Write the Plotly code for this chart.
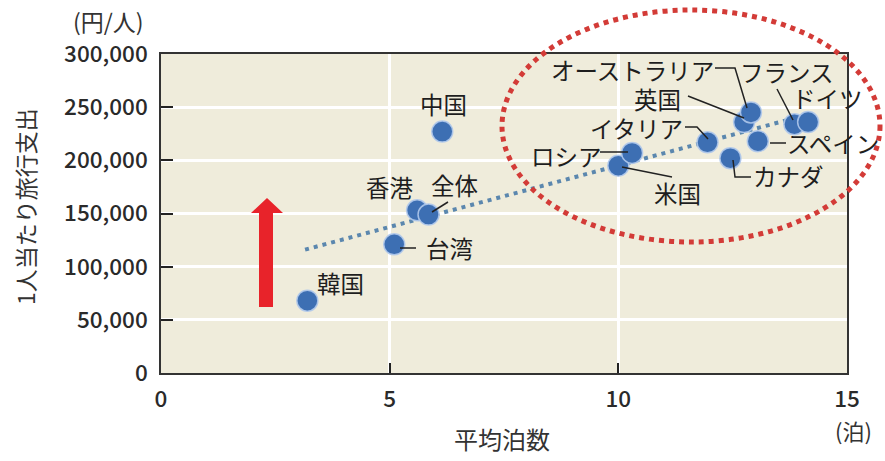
import plotly.graph_objects as go

# ---- data -------------------------------------------------------------
countries = ["韓国", "台湾", "香港", "全体", "中国", "米国", "ロシア", "イタリア",
             "カナダ", "英国", "オーストラリア", "スペイン", "フランス", "ドイツ"]
avg_nights = [3.2, 5.1, 5.6, 5.85, 6.15, 10.0, 10.3, 11.95,
              12.45, 12.75, 12.9, 13.05, 13.85, 14.15]
spend_per_person = [68000, 121000, 153000, 149000, 227000, 195000, 207000, 217000,
                    202000, 236000, 245000, 218000, 234000, 236000]

# fitted trend (end points)
trend_x = [3.15, 13.75]
trend_y = [116000, 238500]

x_ticks = [0, 5, 10, 15]
y_ticks = [0, 50000, 100000, 150000, 200000, 250000, 300000]

# ---- layout geometry --------------------------------------------------
W, H = 885, 461
ML, MR, MT, MB = 161, 38, 54, 88
PW, PH = W - ML - MR, H - MT - MB
XR, YR = (0, 15), (0, 300000)
FONT = "Noto Sans CJK JP"


def to_data(px, py):
    return (XR[0] + (px - ML) / PW * (XR[1] - XR[0]),
            YR[0] + (MT + PH - py) / PH * (YR[1] - YR[0]))


def to_paper(px, py):
    return (px - ML) / PW, (MT + PH - py) / PH


def path_of(points):
    pts = [to_data(*p) for p in points]
    return "M " + " L ".join(f"{x:.4f},{y:.1f}" for x, y in pts)


fig = go.Figure()

fig.add_trace(go.Scatter(
    x=trend_x, y=trend_y, mode="lines",
    line=dict(color="#5b87ae", width=4, dash="4px,5px"),
    hoverinfo="skip", showlegend=False))

fig.add_trace(go.Scatter(
    x=avg_nights, y=spend_per_person, mode="markers", text=countries,
    marker=dict(size=21, color="#3d6fb3",
                line=dict(color="rgba(175,200,235,0.9)", width=1.5)),
    hovertemplate="%{text}: %{x}泊, %{y:,}円<extra></extra>",
    showlegend=False))

# label placement (pixel centres) and leader lines
label_pos = {
    "中国": (443, 104), "香港": (390, 187), "全体": (454, 185), "台湾": (449, 248),
    "韓国": (340, 283), "ロシア": (566, 156), "米国": (677, 193),
    "イタリア": (636, 128), "カナダ": (788, 176), "英国": (657, 99),
    "オーストラリア": (632, 70), "フランス": (787, 72), "ドイツ": (827, 98),
    "スペイン": (833, 143),
}
leaders = [
    [(432, 212), (448, 202)],
    [(400, 248), (416, 248)],
    [(600, 152), (628, 152)],
    [(622, 167), (672, 177)],
    [(685, 127), (697, 127), (708, 139)],
    [(733, 160), (735, 177), (751, 177)],
    [(688, 96), (744, 118)],
    [(715, 68), (735, 68), (747, 108)],
    [(777, 89), (793, 120)],
    [(770, 143), (786, 143)],
]

annotations = []
for name in countries:
    lx, ly = to_data(*label_pos[name])
    annotations.append(dict(x=lx, y=ly, xref="x", yref="y", text=name,
                            xanchor="center", yanchor="middle", showarrow=False,
                            font=dict(size=23.5, color="#1e1e1e")))

shapes = []
for pts in leaders:
    shapes.append(dict(type="path", xref="x", yref="y", path=path_of(pts),
                       line=dict(color="#222222", width=1.5), layer="above"))

# upward red arrow
arrow = [(259, 307), (273, 307), (273, 213), (283, 213), (267, 198),
         (251, 213), (259, 213)]
shapes.append(dict(type="path", xref="x", yref="y", path=path_of(arrow) + " Z",
                   fillcolor="#e8232a", line=dict(width=0), layer="above"))

# dotted red ellipse around the long-stay group
ex0, ey0 = to_paper(502, 242)
ex1, ey1 = to_paper(880, 10)
shapes.append(dict(type="circle", xref="paper", yref="paper",
                   x0=ex0, x1=ex1, y0=ey0, y1=ey1,
                   line=dict(color="#d33b37", width=5, dash="5px,5px"),
                   layer="above"))

# axis captions
for text, (px, py), angle, size in [("1人当たり旅行支出", (25, 207), -90, 23),
                                    ("(円/人)", (108, 21), 0, 23),
                                    ("平均泊数", (502, 438), 0, 24),
                                    ("(泊)", (854, 430), 0, 22)]:
    ax_, ay_ = to_paper(px, py)
    annotations.append(dict(x=ax_, y=ay_, xref="paper", yref="paper", text=text,
                            xanchor="center", yanchor="middle",
                            showarrow=False, textangle=angle,
                            font=dict(size=size, color="#333333")))

axis_common = dict(showline=True, linecolor="#333333", linewidth=1.5, mirror=True,
                   ticks="inside", tickcolor="#222222", tickwidth=2,
                   showgrid=True, gridcolor="#ffffff", gridwidth=2.5,
                   zeroline=False,
                   tickfont=dict(size=22.5, color="#2a2a2a", weight=500))

fig.update_layout(
    width=W, height=H,
    margin=dict(l=ML, r=MR, t=MT, b=MB),
    paper_bgcolor="#ffffff", plot_bgcolor="#efecdb",
    font=dict(family=FONT),
    xaxis=dict(range=list(XR), tickvals=x_ticks, ticklen=10,
               ticklabelstandoff=5, **axis_common),
    yaxis=dict(range=list(YR), tickvals=y_ticks, tickformat=",", ticklen=12,
               ticklabelstandoff=7, **axis_common),
    annotations=annotations, shapes=shapes,
)

fig.write_html("out.html")
